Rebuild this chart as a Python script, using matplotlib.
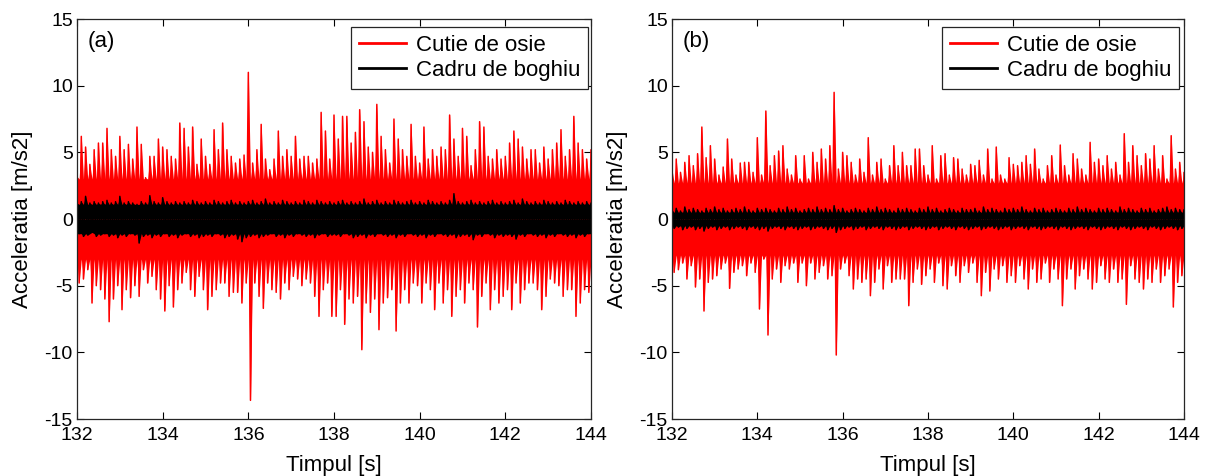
import numpy as np
import matplotlib
matplotlib.use("Agg")
import matplotlib.pyplot as plt

plt.rcParams['font.family'] = ['Liberation Sans', 'DejaVu Sans']
plt.rcParams['axes.unicode_minus'] = False

# Sampling: positive and negative peak of each 0.1 s window
T_START = 132.0
STEP = 0.1

# ---- (a) ----
red_a_up = [3.2, 6.2, 5.4, 4.1, 5.2, 5.7, 5.7, 6.8, 5.2, 4.7,
            6.2, 5.2, 5.6, 4.5, 6.9, 5.6, 3.1, 4.7, 4.7, 6.0,
            5.4, 5.2, 4.7, 4.5, 7.2, 6.8, 5.4, 6.9, 4.1, 6.0,
            4.7, 4.1, 6.7, 5.2, 7.2, 5.2, 4.7, 4.2, 4.5, 4.8,
            11.0, 4.2, 5.2, 7.1, 4.5, 3.7, 4.5, 6.6, 4.7, 5.2,
            4.7, 6.2, 4.5, 4.7, 4.7, 4.2, 4.5, 8.0, 6.6, 4.5,
            7.8, 6.0, 7.7, 7.7, 5.7, 6.5, 8.2, 7.3, 5.4, 5.0,
            8.6, 6.2, 5.2, 4.2, 7.5, 6.0, 5.2, 4.7, 7.1, 4.7,
            4.2, 6.9, 4.5, 5.2, 4.7, 5.4, 5.2, 7.8, 6.0, 4.7,
            6.8, 6.2, 4.0, 5.2, 7.3, 6.9, 4.7, 4.5, 5.2, 4.5,
            4.7, 5.7, 6.6, 6.0, 5.4, 4.5, 5.2, 5.2, 4.2, 5.4,
            4.5, 5.2, 5.7, 6.7, 4.7, 5.2, 7.7, 5.7, 5.2, 4.5,
            5.2]
red_a_lo = [-4.8, -4.5, -3.8, -6.3, -5.0, -5.3, -6.0, -7.7, -6.0, -5.0,
            -6.8, -5.3, -5.9, -5.0, -5.8, -3.8, -4.8, -4.3, -5.3, -6.0,
            -6.9, -5.0, -6.6, -5.3, -4.8, -4.0, -5.3, -5.8, -4.3, -5.3,
            -6.8, -5.8, -5.3, -4.8, -4.8, -5.8, -5.5, -5.5, -6.3, -4.8,
            -13.6, -4.8, -5.8, -6.7, -4.8, -5.3, -5.5, -6.0, -4.8, -5.3,
            -4.3, -4.5, -5.0, -4.5, -4.8, -5.8, -7.3, -5.3, -4.8, -7.3,
            -7.3, -5.3, -7.9, -6.0, -6.3, -5.8, -9.8, -6.3, -7.0, -6.0,
            -8.3, -6.3, -5.9, -5.3, -8.4, -6.3, -5.3, -6.3, -4.8, -5.0,
            -6.3, -4.8, -5.3, -6.8, -4.8, -6.3, -5.3, -7.3, -5.8, -5.3,
            -6.3, -4.8, -5.3, -8.1, -5.8, -4.8, -6.8, -5.3, -6.3, -5.8,
            -5.3, -6.8, -4.8, -6.3, -5.3, -4.8, -4.8, -5.3, -6.8, -5.8,
            -4.5, -4.8, -5.0, -5.8, -5.3, -5.3, -7.3, -6.3, -5.3, -5.5,
            -4.8]
black_a_up = [1.2, 1.3, 1.7, 1.2, 1.3, 1.2, 1.3, 1.4, 1.2, 1.3,
              1.7, 1.2, 1.3, 1.2, 1.1, 1.3, 1.2, 1.75, 1.3, 1.2,
              1.6, 1.3, 1.2, 1.3, 1.2, 1.3, 1.2, 1.4, 1.3, 1.2,
              1.3, 1.2, 1.4, 1.3, 1.2, 1.3, 1.4, 1.2, 1.3, 1.2,
              1.3, 1.4, 1.2, 1.3, 1.5, 1.2, 1.3, 1.2, 1.4, 1.3,
              1.2, 1.3, 1.2, 1.4, 1.3, 1.2, 1.4, 1.3, 1.2, 1.3,
              1.2, 1.3, 1.4, 1.2, 1.3, 1.2, 1.3, 1.5, 1.2, 1.3,
              1.4, 1.2, 1.3, 1.2, 1.4, 1.3, 1.2, 1.3, 1.4, 1.2,
              1.3, 1.2, 1.4, 1.3, 1.2, 1.3, 1.2, 1.4, 1.9, 1.3,
              1.2, 1.3, 1.4, 1.2, 1.3, 1.2, 1.3, 1.4, 1.2, 1.3,
              1.2, 1.3, 1.4, 1.2, 1.5, 1.3, 1.2, 1.3, 1.2, 1.4,
              1.3, 1.2, 1.3, 1.2, 1.4, 1.3, 1.2, 1.3, 1.2, 1.3,
              1.2]
black_a_lo = [-1.1, -1.3, -1.2, -1.0, -1.3, -1.2, -1.1, -1.3, -1.2, -1.4,
              -1.2, -1.3, -1.1, -1.2, -1.8, -1.3, -1.2, -1.4, -1.2, -1.3,
              -1.1, -1.3, -1.2, -1.4, -1.2, -1.1, -1.3, -1.2, -1.4, -1.3,
              -1.2, -1.3, -1.1, -1.2, -1.4, -1.3, -1.2, -1.5, -1.7, -1.4,
              -1.3, -1.2, -1.4, -1.3, -1.2, -1.1, -1.3, -1.2, -1.4, -1.2,
              -1.3, -1.1, -1.2, -1.3, -1.2, -1.4, -1.2, -1.1, -1.3, -1.2,
              -1.2, -1.3, -1.1, -1.2, -1.4, -1.3, -1.2, -1.4, -1.2, -1.3,
              -1.1, -1.2, -1.3, -1.2, -1.4, -1.2, -1.3, -1.1, -1.2, -1.3,
              -1.2, -1.4, -1.2, -1.3, -1.1, -1.2, -1.3, -1.2, -1.4, -1.3,
              -1.2, -1.3, -1.55, -1.2, -1.3, -1.1, -1.2, -1.4, -1.2, -1.3,
              -1.2, -1.3, -1.5, -1.2, -1.3, -1.1, -1.2, -1.3, -1.2, -1.4,
              -1.2, -1.3, -1.1, -1.2, -1.3, -1.2, -1.4, -1.2, -1.3, -1.1,
              -1.2]
# amplitude below which each trace forms a continuous band
red_a_core = 3.0
black_a_core = 1.1

# ---- (b) ----
red_b_up = [3.75, 4.5, 3.5, 4.25, 4.75, 4.0, 4.9, 6.9, 4.6, 5.5,
            4.5, 3.3, 3.9, 6.0, 4.5, 3.3, 4.2, 4.25, 4.25, 3.5,
            6.1, 3.3, 8.1, 4.0, 4.75, 5.1, 5.5, 3.75, 3.3, 4.75,
            3.0, 4.75, 3.0, 5.0, 4.25, 5.25, 4.5, 5.5, 9.5, 3.75,
            5.0, 4.75, 4.25, 3.3, 4.5, 3.5, 6.1, 3.3, 4.25, 4.5,
            3.0, 4.0, 5.5, 4.0, 5.0, 4.0, 4.0, 5.25, 5.25, 4.0,
            3.3, 5.5, 3.0, 4.75, 4.9, 3.3, 4.6, 4.5, 3.75, 3.3,
            4.1, 4.0, 4.4, 3.3, 5.25, 3.0, 5.4, 3.3, 3.0, 4.6,
            4.1, 4.0, 4.25, 4.75, 4.1, 5.25, 3.75, 3.0, 4.0, 4.75,
            3.3, 5.55, 4.0, 3.3, 4.9, 4.5, 3.75, 3.3, 5.75, 4.25,
            4.5, 4.0, 4.75, 3.75, 4.25, 3.3, 6.4, 4.25, 5.5, 4.75,
            4.0, 4.9, 4.5, 5.5, 3.75, 4.75, 3.0, 6.25, 3.75, 4.25,
            3.5]
red_b_lo = [-4.0, -3.8, -3.3, -4.5, -3.5, -5.1, -4.5, -6.9, -4.75, -4.5,
            -4.25, -3.75, -3.3, -5.2, -4.0, -3.75, -3.5, -4.25, -3.3, -4.0,
            -6.75, -3.0, -8.7, -4.5, -3.75, -4.75, -3.5, -3.75, -3.3, -4.75,
            -3.3, -5.0, -3.3, -4.5, -4.0, -3.5, -4.5, -4.25, -10.2, -3.75,
            -3.3, -4.25, -5.25, -4.5, -4.75, -4.5, -5.75, -4.75, -3.75, -5.25,
            -3.5, -4.75, -4.5, -4.5, -4.5, -6.5, -4.75, -3.75, -4.9, -4.25,
            -3.75, -4.75, -3.3, -5.0, -5.25, -3.5, -4.25, -4.75, -3.5, -4.0,
            -3.3, -4.75, -5.75, -4.0, -5.4, -3.75, -4.5, -3.5, -4.75, -4.25,
            -4.75, -3.5, -4.5, -5.25, -3.75, -4.75, -4.5, -3.3, -4.75, -3.75,
            -4.5, -6.5, -4.5, -3.75, -5.25, -4.25, -3.75, -4.5, -5.25, -4.75,
            -3.5, -4.5, -4.75, -3.75, -4.75, -4.5, -6.4, -3.5, -4.5, -4.75,
            -5.25, -4.5, -4.75, -3.75, -4.75, -4.25, -3.75, -6.6, -4.75, -4.25,
            -4.5]
black_b_up = [0.7, 0.8, 0.6, 0.9, 0.7, 0.8, 0.7, 0.6, 0.8, 0.7,
              0.9, 0.7, 0.8, 0.6, 0.7, 0.8, 0.7, 0.9, 0.7, 0.6,
              0.8, 0.7, 0.8, 0.7, 0.6, 0.8, 0.7, 0.9, 0.7, 0.8,
              0.6, 0.7, 0.8, 0.7, 0.9, 0.7, 0.8, 0.7, 1.0, 0.7,
              0.8, 0.6, 0.7, 0.8, 0.7, 0.6, 0.8, 0.7, 0.9, 0.7,
              0.8, 0.7, 0.6, 0.8, 0.7, 0.8, 0.7, 0.6, 0.8, 0.7,
              0.9, 0.7, 0.8, 0.6, 0.7, 0.8, 0.7, 0.6, 0.8, 0.7,
              0.7, 0.8, 0.6, 0.9, 0.7, 0.8, 0.7, 0.6, 0.8, 0.7,
              0.8, 0.7, 0.9, 0.7, 0.6, 0.8, 0.7, 0.8, 0.6, 0.7,
              0.8, 0.7, 0.6, 0.8, 0.7, 0.9, 0.7, 0.8, 0.7, 0.6,
              0.8, 0.7, 0.8, 0.7, 0.6, 0.9, 0.7, 0.8, 0.7, 0.6,
              0.8, 0.7, 0.8, 0.6, 0.7, 0.8, 0.9, 0.7, 0.8, 0.7,
              0.7]
black_b_lo = [-0.7, -0.6, -0.8, -0.7, -0.6, -0.8, -0.7, -0.9, -0.7, -0.6,
              -0.8, -0.7, -0.6, -0.8, -0.7, -0.6, -0.7, -0.8, -0.6, -0.7,
              -0.8, -0.7, -0.9, -0.7, -0.6, -0.7, -0.8, -0.6, -0.7, -0.8,
              -0.7, -0.6, -0.8, -0.7, -0.6, -0.7, -0.8, -0.7, -1.0, -0.8,
              -0.7, -0.6, -0.8, -0.7, -0.6, -0.8, -0.7, -0.6, -0.7, -0.8,
              -0.6, -0.7, -0.8, -0.7, -0.6, -0.8, -0.7, -0.6, -0.7, -0.8,
              -0.7, -0.6, -0.8, -0.7, -0.6, -0.7, -0.8, -0.6, -0.7, -0.8,
              -0.7, -0.6, -0.8, -0.7, -0.6, -0.7, -0.8, -0.7, -0.6, -0.8,
              -0.7, -0.6, -0.7, -0.8, -0.6, -0.7, -0.8, -0.7, -0.6, -0.7,
              -0.8, -0.6, -0.7, -0.8, -0.7, -0.6, -0.7, -0.8, -0.6, -0.7,
              -0.8, -0.7, -0.6, -0.7, -0.8, -0.6, -0.7, -0.8, -0.7, -0.6,
              -0.7, -0.8, -0.6, -0.7, -0.8, -0.7, -0.6, -0.7, -0.8, -0.7,
              -0.7]
red_b_core = 2.7
black_b_core = 0.5

labels = ["Cutie de osie", "Cadru de boghiu"]
panel_tags = ["(a)", "(b)"]
x_ticks = [132, 134, 136, 138, 140, 142, 144]
y_ticks = [-15, -10, -5, 0, 5, 10, 15]

RED = "#ff0000"
BLACK = "#000000"


def interleave(a, b):
    return np.column_stack([a, b]).ravel()


def draw_trace(ax, up, lo, core, color, label, z):
    up = np.asarray(up, float)
    lo = np.asarray(lo, float)
    n = len(up)
    t = T_START + STEP * np.arange(n)
    th = t + STEP / 2
    full = np.full(n, core)
    # positive excursions rising out of the dense band
    ax.fill_between(interleave(t, th), 0, interleave(up, full),
                    color=color, lw=0, zorder=z)
    # negative excursions
    ax.fill_between(interleave(t, th), interleave(-full, lo), 0,
                    color=color, lw=0, zorder=z)
    # the oscillating trace itself
    ax.plot(interleave(t, th), interleave(up, lo), color=color, lw=1.1,
            label=label, zorder=z)


FS_TICK = 14
FS_TEXT = 16
fig = plt.figure(figsize=(12.11, 4.76), dpi=100)
ax_a = fig.add_axes([0.0636, 0.1197, 0.4244, 0.8403])
ax_b = fig.add_axes([0.5549, 0.1197, 0.4228, 0.8403])

panels = [
    (ax_a, red_a_up, red_a_lo, red_a_core,
     black_a_up, black_a_lo, black_a_core, 0.994),
    (ax_b, red_b_up, red_b_lo, red_b_core,
     black_b_up, black_b_lo, black_b_core, 0.990),
]

for k, (ax, ru, rl, rc, bu, bl, bc, leg_x) in enumerate(panels):
    draw_trace(ax, ru, rl, rc, RED, labels[0], 2)
    draw_trace(ax, bu, bl, bc, BLACK, labels[1], 3)

    ax.set_xlim(132, 144)
    ax.set_ylim(-15, 15)
    ax.set_xticks(x_ticks)
    ax.set_yticks(y_ticks)
    ax.tick_params(direction="in", top=True, right=True, length=5,
                   width=0.8, labelsize=FS_TICK, pad=3)
    ax.tick_params(axis="x", pad=6)
    for s in ax.spines.values():
        s.set_linewidth(0.9)
        s.set_color("#262626")
        s.set_zorder(5)

    ax.set_xlabel("Timpul [s]", fontsize=FS_TEXT)
    ax.set_ylabel("Acceleratia [m/s2]", fontsize=FS_TEXT)
    ax.xaxis.set_label_coords(0.5, -0.09)
    ax.yaxis.set_label_coords(-0.085, 0.5)

    ax.text(0.02, 0.945, panel_tags[k], transform=ax.transAxes,
            fontsize=FS_TEXT, ha="left", va="center")

    leg = ax.legend(loc="upper right", bbox_to_anchor=(leg_x, 0.98),
                    borderaxespad=0, fontsize=FS_TEXT, frameon=True,
                    fancybox=False, framealpha=1, edgecolor="#262626",
                    handlelength=2.1, handletextpad=0.45,
                    labelspacing=0.2, borderpad=0.35)
    leg.set_zorder(6)
    leg.get_frame().set_linewidth(0.9)
    for line in leg.get_lines():
        line.set_linewidth(2.0)

fig.savefig("out.png", dpi=100)
